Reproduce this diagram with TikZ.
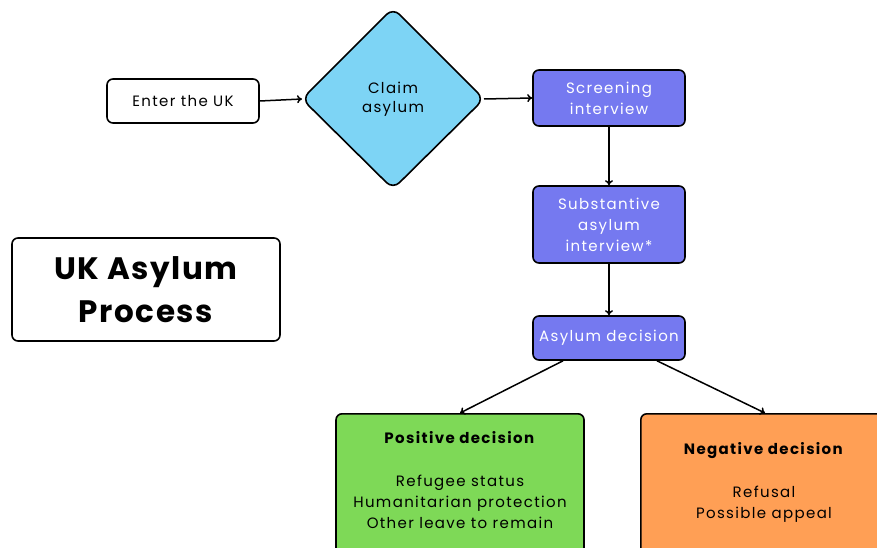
\documentclass[tikz,border=0pt]{standalone}
\usepackage{fontspec}
\setmainfont[LetterSpace=9]{Poppins}
\usetikzlibrary{arrows.meta}
\definecolor{diamondblue}{HTML}{7DD4F5}
\definecolor{boxpurple}{HTML}{7579F0}
\definecolor{posgreen}{HTML}{7ED957}
\definecolor{negorange}{HTML}{FF9F55}
\tikzset{
  x=1pt, y=-1pt,
  txt/.style={font=\fontsize{15}{21}\selectfont},
  box/.style={draw=black, line width=1.6pt, rounded corners=6pt, align=center, inner sep=0pt, txt},
  purplebox/.style={box, fill=boxpurple, text=white, minimum width=152pt},
  conn/.style={line width=1.5pt, -{To[length=5pt,width=8pt]}},
}
\begin{document}
\begin{tikzpicture}
\clip (0,0) rectangle (877,548);
\fill[white] (0,0) rectangle (877,548);
% nodes
\node[box, minimum width=152pt, minimum height=44pt] (enter) at (183,101) {Enter the UK};
\draw[line width=1.6pt, rounded corners=9pt, fill=diamondblue] (302,99) -- (393,8) -- (484,99) -- (393,189) -- cycle;
\coordinate (dl) at (302,99);
\coordinate (dr) at (484,99);
\node[align=center, font=\fontsize{15}{19}\selectfont] (claim) at (393,99) {Claim\\asylum};
\node[purplebox, minimum height=56pt] (screen) at (609,98) {Screening\\interview};
\node[purplebox, minimum height=77pt] (subst) at (609,224.5) {Substantive\\asylum\\interview*};
\node[purplebox, minimum height=44pt] (decision) at (609,338) {Asylum decision};
\node[box, minimum width=268pt, minimum height=103pt, font=\fontsize{31}{43}\selectfont\bfseries\addfontfeature{LetterSpace=5}] (title) at (146,289.5) {UK Asylum\\Process};
\node[box, fill=posgreen, minimum width=248pt, minimum height=160pt, anchor=north] (pos) at (460,413) {};
\node[align=center, anchor=north, txt] (postext) at (460,428) {\textbf{Positive decision}\\[22pt]Refugee status\\Humanitarian protection\\Other leave to remain};
\node[box, fill=negorange, minimum width=260pt, minimum height=160pt, anchor=north west] (neg) at (640,413) {};
\node[align=center, anchor=north, txt] (negtext) at (764,439) {\textbf{Negative decision}\\[22pt]Refusal\\Possible appeal};
% connectors
\draw[conn] (enter.east) -- (dl);
\draw[conn] (dr) -- (screen.west);
\draw[conn] (screen.south) -- (subst.north);
\draw[conn] (subst.south) -- (decision.north);
\draw[conn] ([xshift=-46pt]decision.south) -- (pos.north);
\draw[conn] ([xshift=48pt]decision.south) -- ([xshift=125pt]neg.north west);
\end{tikzpicture}
\end{document}
